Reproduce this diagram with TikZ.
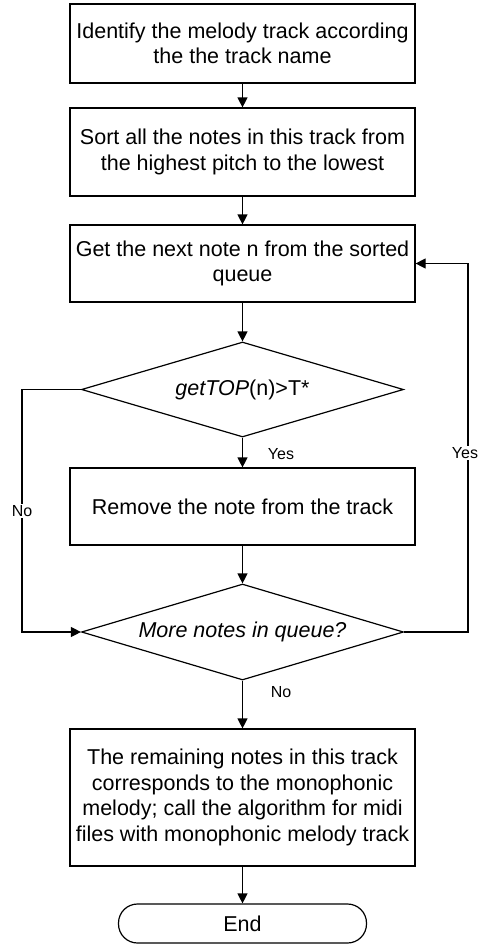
\documentclass[tikz,border=0pt]{standalone}
\usepackage{fontspec}
\setmainfont{Liberation Sans}
\usetikzlibrary{shapes.geometric,arrows.meta}
\begin{document}
\begin{tikzpicture}[x=1pt,y=-1pt,
  line width=1.2pt,
  box/.style={draw,rectangle,minimum width=345pt,align=center,inner sep=0pt,font=\fontsize{21.5}{25.5}\selectfont},
  dec/.style={draw,diamond,aspect=3.4,minimum width=322pt,inner sep=0pt,font=\fontsize{21.5}{25.5}\selectfont},
  term/.style={draw,rectangle,rounded corners=19pt,minimum width=248pt,minimum height=39pt,inner sep=0pt,font=\fontsize{21.5}{25.5}\selectfont},
  lbl/.style={font=\fontsize{16}{18}\selectfont,inner sep=1pt},
  arr/.style={-{Triangle[length=10pt,width=10pt]}}]
\useasboundingbox (0,0) rectangle (480,945);
\node[box,minimum height=79pt] (b1) at (242.5,43.5) {Identify the melody track according\\the the track name};
\node[box,minimum height=88pt] (b2) at (242.5,152) {Sort all the notes in this track from\\the highest pitch to the lowest};
\node[box,minimum height=77pt] (b3) at (242.5,263.5) {Get the next note n from the sorted\\queue};
\node[dec,minimum height=95pt] (d1) at (242.5,389.5) {\textit{getTOP}(n)>T*};
\node[box,minimum height=77pt] (b4) at (242.5,506.5) {Remove the note from the track};
\node[dec,minimum height=96pt] (d2) at (242.5,632) {\textit{More notes in queue?}};
\node[box,minimum height=137pt] (b5) at (242.5,797.5) {The remaining notes in this track\\corresponds to the monophonic\\melody; call the algorithm for midi\\files with monophonic melody track};
\node[term] (e) at (242.5,923.5) {End};
\coordinate (cl1) at (22,389.5);
\coordinate (cl2) at (22,632);
\coordinate (cr1) at (468,632);
\coordinate (cr2) at (468,263.5);
\draw[arr] (b1) -- (b2);
\draw[arr] (b2) -- (b3);
\draw[arr] (b3) -- (d1);
\draw[arr] (d1) -- (b4);
\draw[arr] (b4) -- (d2);
\draw[arr] (d2) -- (b5);
\draw[arr] (b5) -- (e);
\draw[arr] (d1.west) -- (cl1) -- (cl2) -- (d2.west);
\draw[arr] (d2.east) -- (cr1) -- (cr2) -- (b3.east);
\node[lbl] (y1) at (281,454) {Yes};
\node[lbl] (n2) at (281,692) {No};
\node[lbl,fill=white] (n1) at (22,511) {No};
\node[lbl,fill=white] (y2) at (465,453) {Yes};
\end{tikzpicture}
\end{document}
